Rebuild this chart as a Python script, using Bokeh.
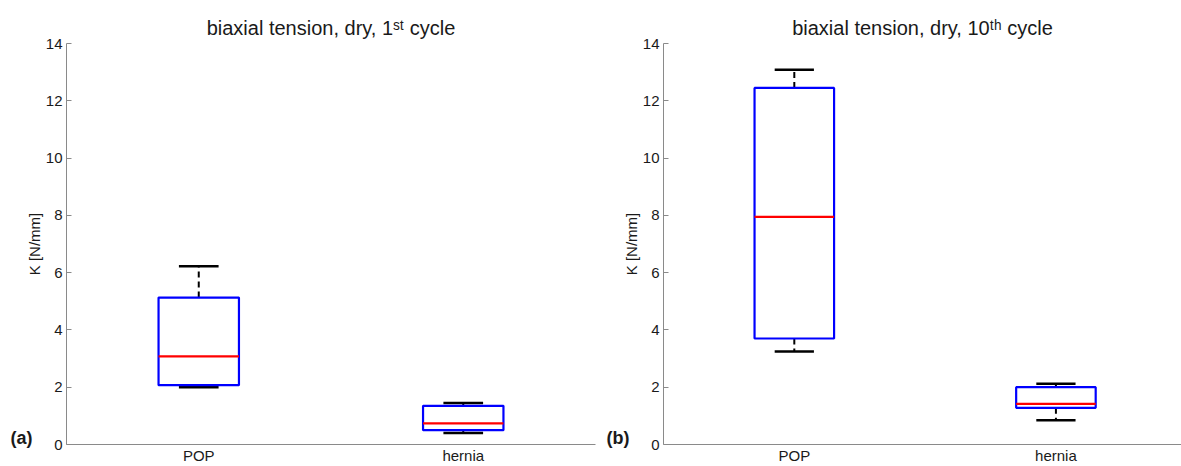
from bokeh.plotting import figure
from bokeh.models import Range1d, FixedTicker, Label
from bokeh.layouts import row
from bokeh.embed import file_html
from bokeh.resources import INLINE

# ---- data ----
categories = ["POP", "hernia"]

a_lower = [2.00, 0.40]
a_q1 = [2.07, 0.50]
a_median = [3.08, 0.74]
a_q3 = [5.13, 1.35]
a_upper = [6.22, 1.45]

b_lower = [3.25, 0.85]
b_q1 = [3.70, 1.28]
b_median = [7.95, 1.42]
b_q3 = [12.45, 2.00]
b_upper = [13.08, 2.12]

y_ticks = [0, 2, 4, 6, 8, 10, 12, 14]
y_label = "K [N/mm]"
title_a = "biaxial tension, dry, 1\u02e2\u1d57 cycle"
title_b = "biaxial tension, dry, 10\u1d57\u02b0 cycle"

FONT = "Liberation Sans"
H = 466
TOP = 43
BOTTOM = 21
LEFT = 66


def make_panel(width, x_end, right_border, lower, q1, med, q3, upper,
               title, title_offset, letter):
    p = figure(width=width, height=H, output_backend="svg", toolbar_location=None,
               x_range=Range1d(0.5, x_end), y_range=Range1d(0, 14),
               min_border_left=LEFT, min_border_right=right_border,
               min_border_top=TOP, min_border_bottom=BOTTOM)
    p.outline_line_color = None
    p.xgrid.visible = False
    p.ygrid.visible = False
    p.background_fill_color = "white"
    p.border_fill_color = "white"

    p.title.text = title
    p.title.align = "center"
    p.title.offset = title_offset
    p.title.text_font = FONT
    p.title.text_font_size = "20px"
    p.title.text_font_style = "normal"
    p.title.text_color = "#1a1a1a"
    p.title.standoff = 10

    xs = [i + 1 for i in range(len(categories))]
    half_box = 0.152
    half_cap = 0.075

    # whiskers
    p.segment(x0=xs, y0=q3, x1=xs, y1=upper, line_color="black", line_width=2, line_dash="6 4")
    p.segment(x0=xs, y0=q1, x1=xs, y1=lower, line_color="black", line_width=2, line_dash="6 4")
    # caps
    p.segment(x0=[x - half_cap for x in xs], y0=upper, x1=[x + half_cap for x in xs], y1=upper,
              line_color="black", line_width=2.5)
    p.segment(x0=[x - half_cap for x in xs], y0=lower, x1=[x + half_cap for x in xs], y1=lower,
              line_color="black", line_width=2.5)
    # boxes
    p.vbar(x=xs, width=2 * half_box, bottom=q1, top=q3, fill_color=None,
           line_color="#0000ff", line_width=2.2)
    # medians
    p.segment(x0=[x - half_box for x in xs], y0=med, x1=[x + half_box for x in xs], y1=med,
              line_color="#ff0000", line_width=2.2)

    # axes
    xa = p.xaxis[0]
    xa.ticker = FixedTicker(ticks=xs)
    xa.major_label_overrides = {x: c for x, c in zip(xs, categories)}
    xa.major_tick_line_color = None
    xa.major_tick_out = 0
    xa.major_tick_in = 0
    xa.minor_tick_line_color = None
    xa.minor_tick_out = 0
    xa.axis_line_color = "#8a8a8a"
    xa.major_label_text_font = FONT
    xa.major_label_text_font_size = "15px"
    xa.major_label_text_color = "#1a1a1a"
    xa.major_label_standoff = 2

    ya = p.yaxis[0]
    ya.ticker = FixedTicker(ticks=y_ticks)
    ya.major_tick_in = 5
    ya.major_tick_out = 0
    ya.minor_tick_line_color = None
    ya.axis_line_color = "#8a8a8a"
    ya.major_tick_line_color = "#8a8a8a"
    ya.major_label_text_font = FONT
    ya.major_label_text_font_size = "15px"
    ya.major_label_text_color = "#1a1a1a"
    ya.major_label_standoff = 4
    ya.axis_label = y_label
    ya.axis_label_text_font = FONT
    ya.axis_label_text_font_size = "15px"
    ya.axis_label_text_font_style = "normal"
    ya.axis_label_text_color = "#1a1a1a"
    ya.axis_label_standoff = 0

    # panel letter, in the left side panel (outside the y axis)
    p.add_layout(Label(x=10, y=7, text=letter, text_font=FONT,
                       text_font_size="18px", text_font_style="bold", text_color="#1a1a1a",
                       text_baseline="middle", x_units="screen", y_units="screen"), "left")
    return p


pa = make_panel(596, 2.5, 1, a_lower, a_q1, a_median, a_q3, a_upper, title_a, 0, "(a)")
pb = make_panel(585, 2.48, 0, b_lower, b_q1, b_median, b_q3, b_upper, title_b, 4, "(b)")

layout = row(pa, pb)
open("out.html", "w").write(file_html(layout, INLINE))
